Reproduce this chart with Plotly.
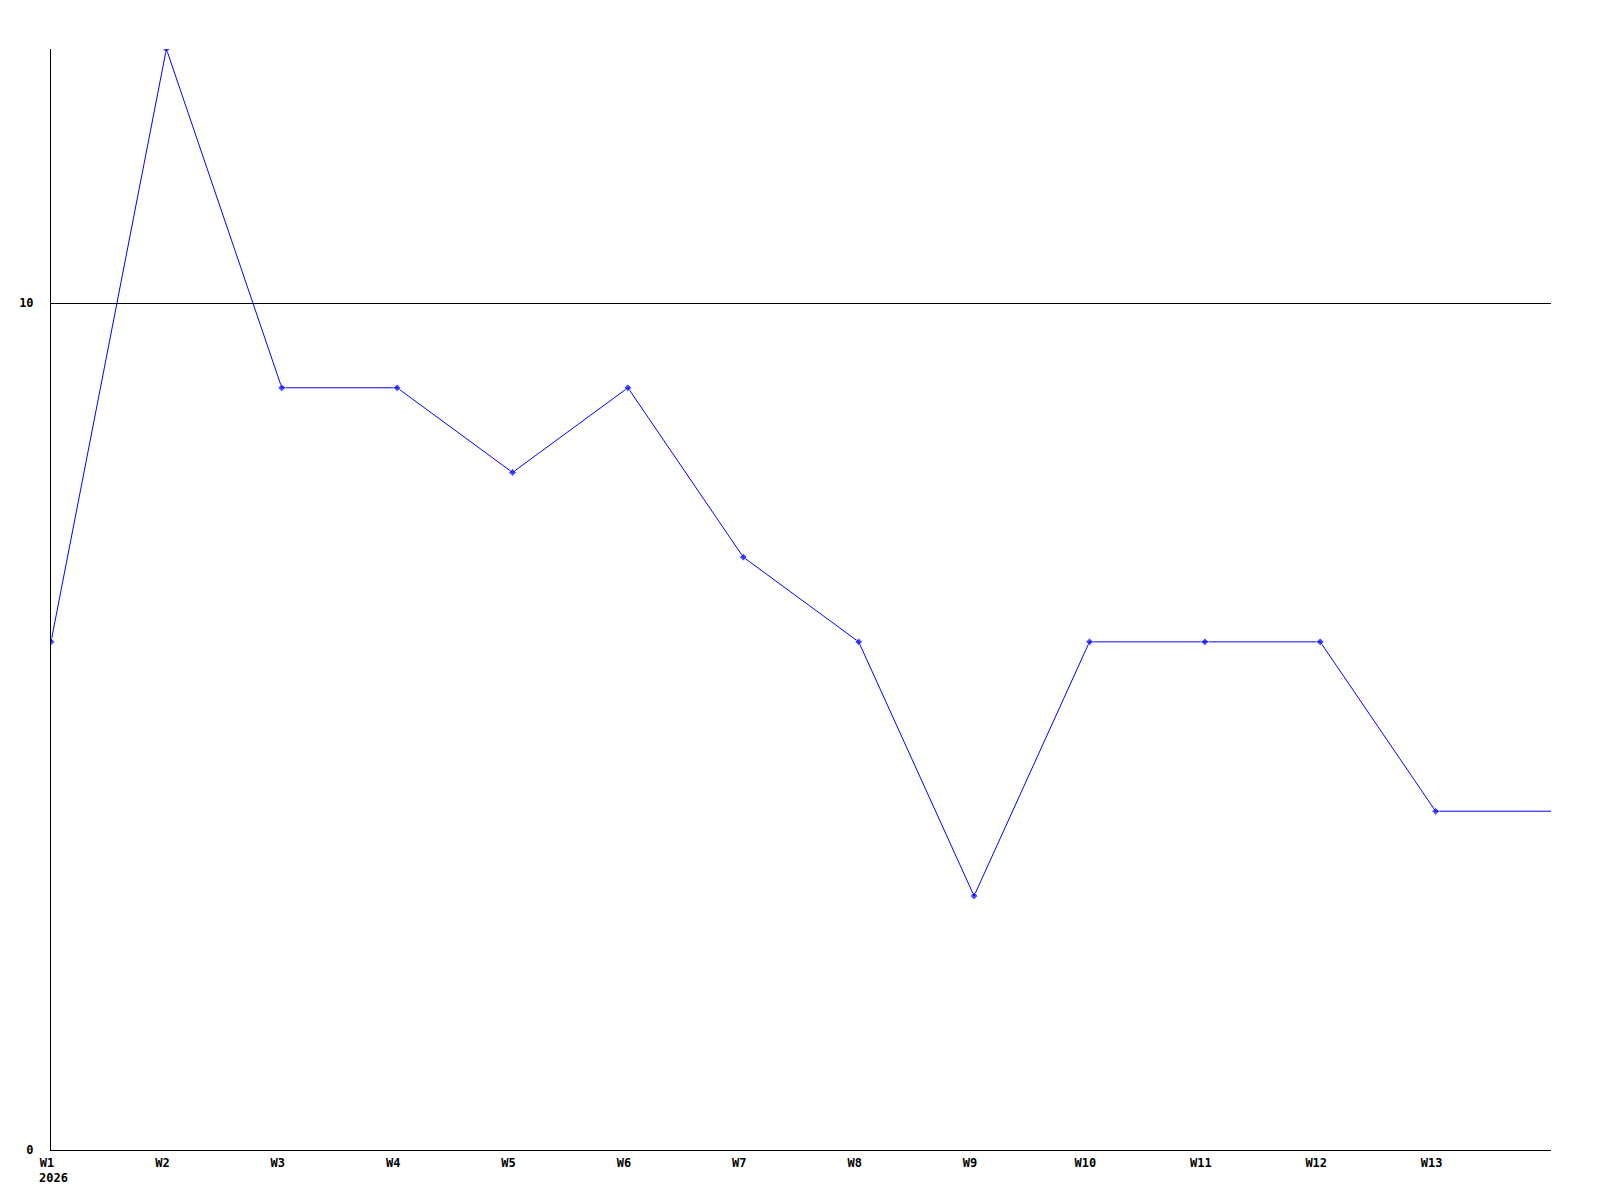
import plotly.graph_objects as go

weeks = ["W1", "W2", "W3", "W4", "W5", "W6", "W7", "W8", "W9", "W10", "W11", "W12", "W13", "W14"]
values = [6, 13, 9, 9, 8, 9, 7, 6, 3, 6, 6, 6, 4, 4]
year_label = "2026"
y_ticks = [0, 10]

xs = list(range(len(weeks)))
marker_sizes = [6] * (len(weeks) - 1) + [0]

FONT = "DejaVu Sans Mono"

fig = go.Figure()
fig.add_trace(go.Scatter(
    x=xs, y=values, mode="lines+markers",
    line=dict(color="#0000ff", width=1),
    marker=dict(symbol="diamond", size=marker_sizes, color="#0000ff"),
    hoverinfo="skip",
))

fig.update_layout(
    width=1592, height=1192,
    margin=dict(l=43, r=49, t=41, b=50, autoexpand=False),
    paper_bgcolor="white", plot_bgcolor="white",
    showlegend=False,
    font=dict(family=FONT, size=12, color="black"),
    xaxis=dict(
        range=[0, len(weeks) - 1],
        tickvals=xs[:-1], ticktext=weeks[:-1],
        showgrid=False, zeroline=False,
        showline=True, linecolor="black", linewidth=1,
        ticks="", ticklabelstandoff=2, ticklabelshift=-4,
        tickfont=dict(family=FONT, size=12, weight="bold"),
        automargin=False, fixedrange=True,
    ),
    yaxis=dict(
        range=[0, 13],
        tickvals=y_ticks, ticktext=[str(v) for v in y_ticks],
        showgrid=True, gridcolor="black", gridwidth=1,
        zeroline=False,
        showline=True, linecolor="black", linewidth=1,
        ticks="", ticklabelstandoff=14,
        tickfont=dict(family=FONT, size=12, weight="bold"),
        automargin=False, fixedrange=True,
    ),
    annotations=[dict(
        text=year_label, x=0, xref="x", y=0, yref="paper",
        xanchor="left", yanchor="top", xshift=-14, yshift=-19,
        showarrow=False, font=dict(family=FONT, size=12, weight="bold", color="black"),
    )],
)

fig.write_html("out.html")
